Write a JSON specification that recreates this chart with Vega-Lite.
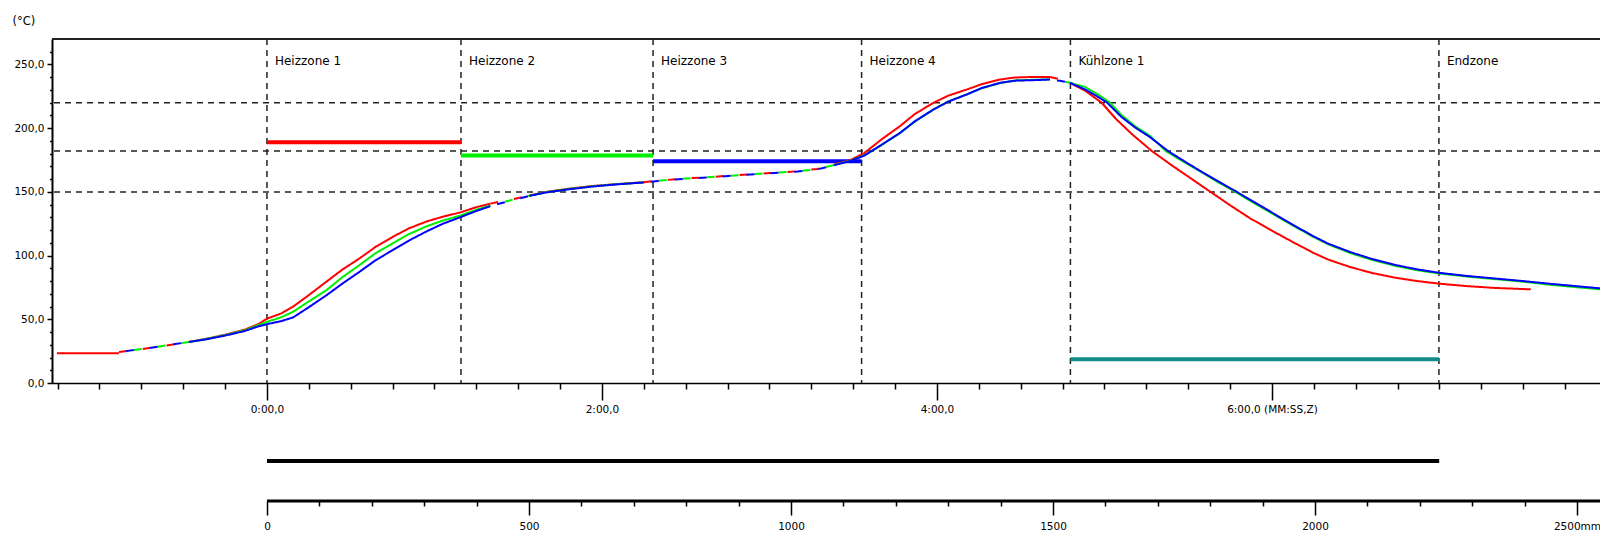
{
  "$schema": "https://vega.github.io/schema/vega-lite/v6.json",
  "width": 1548,
  "height": 344,
  "autosize": {"type": "none"},
  "padding": {"left": 52, "top": 39, "right": 0, "bottom": 151},
  "background": "#ffffff",
  "config": {
    "view": {"stroke": null},
    "font": "DejaVu Sans",
    "text": {"font": "DejaVu Sans"},
    "axis": {"labelOverlap": false, "labelFlush": false}
  },
  "datasets": {
    "zonen": [
      {"zone": "Heizzone 1", "t": 0},
      {"zone": "Heizzone 2", "t": 69.5},
      {"zone": "Heizzone 3", "t": 138.3},
      {"zone": "Heizzone 4", "t": 213},
      {"zone": "Kühlzone 1", "t": 287.8},
      {"zone": "Endzone", "t": 419.8}
    ],
    "grenzen": [{"T": 150}, {"T": 182}, {"T": 220}],
    "sollwerte": [
      {"zone": "Heizzone 1", "s": "rot", "t0": 0, "t1": 69.5, "T": 189},
      {"zone": "Heizzone 2", "s": "grün", "t0": 69.5, "t1": 138.3, "T": 178.5},
      {"zone": "Heizzone 3", "s": "blau", "t0": 138.3, "t1": 213, "T": 174},
      {"zone": "Kühlzone 1", "s": "türkis", "t0": 287.8, "t1": 419.8, "T": 18.7}
    ],
    "profile": [
      {"s": "rot", "g": "S", "t": -75.2, "T": 23.3},
      {"s": "rot", "g": "S", "t": -53, "T": 23.3},

      {"s": "rot", "g": "A", "t": -53, "T": 24.3},
      {"s": "rot", "g": "A", "t": -45, "T": 26.6},
      {"s": "rot", "g": "A", "t": -38, "T": 28.8},
      {"s": "rot", "g": "A", "t": -28, "T": 32.2},
      {"s": "rot", "g": "B", "t": -28, "T": 32.2},
      {"s": "rot", "g": "B", "t": -22, "T": 34.6},
      {"s": "rot", "g": "B", "t": -15, "T": 37.9},
      {"s": "rot", "g": "B", "t": -8, "T": 41.8},
      {"s": "rot", "g": "B", "t": -3, "T": 46.3},
      {"s": "rot", "g": "B", "t": 0, "T": 50.5},
      {"s": "rot", "g": "B", "t": 5, "T": 54.5},
      {"s": "rot", "g": "B", "t": 9.4, "T": 60},
      {"s": "rot", "g": "B", "t": 15, "T": 69},
      {"s": "rot", "g": "B", "t": 21.4, "T": 79.7},
      {"s": "rot", "g": "B", "t": 27, "T": 89},
      {"s": "rot", "g": "B", "t": 33.3, "T": 98},
      {"s": "rot", "g": "B", "t": 39, "T": 107},
      {"s": "rot", "g": "B", "t": 45.3, "T": 115},
      {"s": "rot", "g": "B", "t": 51, "T": 121.5},
      {"s": "rot", "g": "B", "t": 57.2, "T": 126.8},
      {"s": "rot", "g": "B", "t": 63, "T": 130.5},
      {"s": "rot", "g": "B", "t": 69.1, "T": 133.8},
      {"s": "rot", "g": "B", "t": 75, "T": 138},
      {"s": "rot", "g": "B", "t": 80, "T": 140.8},
      {"s": "rot", "g": "C", "t": 80, "T": 140.8},
      {"s": "rot", "g": "C", "t": 87, "T": 143.8},
      {"s": "rot", "g": "C", "t": 94, "T": 147.2},
      {"s": "rot", "g": "D", "t": 94, "T": 147.2},
      {"s": "rot", "g": "D", "t": 100, "T": 150},
      {"s": "rot", "g": "D", "t": 107.4, "T": 152.3},
      {"s": "rot", "g": "D", "t": 116, "T": 154.5},
      {"s": "rot", "g": "D", "t": 125.3, "T": 156.1},
      {"s": "rot", "g": "D", "t": 135, "T": 157.6},
      {"s": "rot", "g": "E", "t": 135, "T": 157.6},
      {"s": "rot", "g": "E", "t": 140, "T": 158.8},
      {"s": "rot", "g": "E", "t": 149, "T": 160.4},
      {"s": "rot", "g": "E", "t": 159, "T": 161.7},
      {"s": "rot", "g": "E", "t": 170.6, "T": 163.5},
      {"s": "rot", "g": "E", "t": 180, "T": 164.8},
      {"s": "rot", "g": "E", "t": 190, "T": 166.2},
      {"s": "rot", "g": "E", "t": 197, "T": 168},
      {"s": "rot", "g": "E", "t": 203, "T": 171.4},
      {"s": "rot", "g": "F", "t": 203, "T": 171.4},
      {"s": "rot", "g": "F", "t": 209, "T": 175},
      {"s": "rot", "g": "F", "t": 214, "T": 180.5},
      {"s": "rot", "g": "F", "t": 220, "T": 191},
      {"s": "rot", "g": "F", "t": 226.7, "T": 201.5},
      {"s": "rot", "g": "F", "t": 232, "T": 211},
      {"s": "rot", "g": "F", "t": 238.7, "T": 219.9},
      {"s": "rot", "g": "F", "t": 244, "T": 225.5},
      {"s": "rot", "g": "F", "t": 250.6, "T": 230.3},
      {"s": "rot", "g": "F", "t": 256, "T": 234.5},
      {"s": "rot", "g": "F", "t": 262.6, "T": 238.2},
      {"s": "rot", "g": "F", "t": 268, "T": 239.8},
      {"s": "rot", "g": "F", "t": 274.5, "T": 240.2},
      {"s": "rot", "g": "F", "t": 280.5, "T": 240.2},
      {"s": "rot", "g": "G", "t": 280.5, "T": 240.2},
      {"s": "rot", "g": "G", "t": 284, "T": 238.5},
      {"s": "rot", "g": "G", "t": 287.6, "T": 235.6},
      {"s": "rot", "g": "H", "t": 287.6, "T": 235.6},
      {"s": "rot", "g": "H", "t": 293, "T": 229.5},
      {"s": "rot", "g": "H", "t": 299, "T": 220},
      {"s": "rot", "g": "H", "t": 304, "T": 207.5},
      {"s": "rot", "g": "H", "t": 310, "T": 195},
      {"s": "rot", "g": "H", "t": 317, "T": 182},
      {"s": "rot", "g": "H", "t": 324, "T": 171},
      {"s": "rot", "g": "H", "t": 331, "T": 160.5},
      {"s": "rot", "g": "H", "t": 338, "T": 150},
      {"s": "rot", "g": "H", "t": 345, "T": 139.5},
      {"s": "rot", "g": "H", "t": 352, "T": 129.5},
      {"s": "rot", "g": "H", "t": 360, "T": 119.5},
      {"s": "rot", "g": "H", "t": 368, "T": 110},
      {"s": "rot", "g": "H", "t": 375, "T": 102},
      {"s": "rot", "g": "H", "t": 380, "T": 97},
      {"s": "rot", "g": "H", "t": 388, "T": 91},
      {"s": "rot", "g": "H", "t": 396, "T": 86.3},
      {"s": "rot", "g": "H", "t": 404, "T": 82.7},
      {"s": "rot", "g": "H", "t": 412, "T": 80},
      {"s": "rot", "g": "H", "t": 419.8, "T": 78},
      {"s": "rot", "g": "H", "t": 430, "T": 76},
      {"s": "rot", "g": "H", "t": 440, "T": 74.6},
      {"s": "rot", "g": "H", "t": 452.7, "T": 73.5},

      {"s": "grün", "g": "A", "t": -53, "T": 24.3},
      {"s": "grün", "g": "A", "t": -45, "T": 26.6},
      {"s": "grün", "g": "A", "t": -38, "T": 28.8},
      {"s": "grün", "g": "A", "t": -28, "T": 32.2},
      {"s": "grün", "g": "B", "t": -28, "T": 32.2},
      {"s": "grün", "g": "B", "t": -22, "T": 34.4},
      {"s": "grün", "g": "B", "t": -15, "T": 37.6},
      {"s": "grün", "g": "B", "t": -8, "T": 41.3},
      {"s": "grün", "g": "B", "t": -3, "T": 45.5},
      {"s": "grün", "g": "B", "t": 0, "T": 48},
      {"s": "grün", "g": "B", "t": 5, "T": 51.5},
      {"s": "grün", "g": "B", "t": 9.4, "T": 56},
      {"s": "grün", "g": "B", "t": 15, "T": 64},
      {"s": "grün", "g": "B", "t": 21.4, "T": 73},
      {"s": "grün", "g": "B", "t": 27, "T": 83},
      {"s": "grün", "g": "B", "t": 33.3, "T": 92.8},
      {"s": "grün", "g": "B", "t": 39, "T": 102},
      {"s": "grün", "g": "B", "t": 45.3, "T": 110},
      {"s": "grün", "g": "B", "t": 51, "T": 117},
      {"s": "grün", "g": "B", "t": 57.2, "T": 123},
      {"s": "grün", "g": "B", "t": 63, "T": 127.5},
      {"s": "grün", "g": "B", "t": 69.1, "T": 131.3},
      {"s": "grün", "g": "B", "t": 75, "T": 136},
      {"s": "grün", "g": "B", "t": 80, "T": 139.3},
      {"s": "grün", "g": "C", "t": 80, "T": 139.3},
      {"s": "grün", "g": "C", "t": 87, "T": 143.3},
      {"s": "grün", "g": "C", "t": 94, "T": 147},
      {"s": "grün", "g": "D", "t": 94, "T": 147},
      {"s": "grün", "g": "D", "t": 100, "T": 149.8},
      {"s": "grün", "g": "D", "t": 107.4, "T": 152},
      {"s": "grün", "g": "D", "t": 116, "T": 154.3},
      {"s": "grün", "g": "D", "t": 125.3, "T": 156},
      {"s": "grün", "g": "D", "t": 135, "T": 157.5},
      {"s": "grün", "g": "E", "t": 135, "T": 157.5},
      {"s": "grün", "g": "E", "t": 140, "T": 158.7},
      {"s": "grün", "g": "E", "t": 149, "T": 160.3},
      {"s": "grün", "g": "E", "t": 159, "T": 161.6},
      {"s": "grün", "g": "E", "t": 170.6, "T": 163.4},
      {"s": "grün", "g": "E", "t": 180, "T": 164.7},
      {"s": "grün", "g": "E", "t": 190, "T": 166.1},
      {"s": "grün", "g": "E", "t": 197, "T": 167.8},
      {"s": "grün", "g": "E", "t": 203, "T": 171},
      {"s": "grün", "g": "F", "t": 203, "T": 171},
      {"s": "grün", "g": "F", "t": 209, "T": 174.5},
      {"s": "grün", "g": "F", "t": 214, "T": 178.8},
      {"s": "grün", "g": "F", "t": 220, "T": 186.5},
      {"s": "grün", "g": "F", "t": 226.7, "T": 196},
      {"s": "grün", "g": "F", "t": 232, "T": 205},
      {"s": "grün", "g": "F", "t": 238.7, "T": 214.6},
      {"s": "grün", "g": "F", "t": 244, "T": 221},
      {"s": "grün", "g": "F", "t": 250.6, "T": 226.4},
      {"s": "grün", "g": "F", "t": 256, "T": 231.3},
      {"s": "grün", "g": "F", "t": 262.6, "T": 235.4},
      {"s": "grün", "g": "F", "t": 268, "T": 237.5},
      {"s": "grün", "g": "F", "t": 274.5, "T": 238},
      {"s": "grün", "g": "F", "t": 280.5, "T": 238.3},
      {"s": "grün", "g": "G", "t": 280.5, "T": 238.3},
      {"s": "grün", "g": "G", "t": 284, "T": 237.2},
      {"s": "grün", "g": "G", "t": 287.6, "T": 235.6},
      {"s": "grün", "g": "H", "t": 287.6, "T": 235.6},
      {"s": "grün", "g": "H", "t": 293, "T": 232.5},
      {"s": "grün", "g": "H", "t": 298, "T": 226},
      {"s": "grün", "g": "H", "t": 302, "T": 220},
      {"s": "grün", "g": "H", "t": 306, "T": 210.5},
      {"s": "grün", "g": "H", "t": 311, "T": 201.5},
      {"s": "grün", "g": "H", "t": 316.3, "T": 194},
      {"s": "grün", "g": "H", "t": 322, "T": 182},
      {"s": "grün", "g": "H", "t": 328, "T": 174},
      {"s": "grün", "g": "H", "t": 334, "T": 166.5},
      {"s": "grün", "g": "H", "t": 340, "T": 158.5},
      {"s": "grün", "g": "H", "t": 346.8, "T": 150},
      {"s": "grün", "g": "H", "t": 353, "T": 142},
      {"s": "grün", "g": "H", "t": 360, "T": 133},
      {"s": "grün", "g": "H", "t": 368, "T": 123},
      {"s": "grün", "g": "H", "t": 375, "T": 114.5},
      {"s": "grün", "g": "H", "t": 380, "T": 109},
      {"s": "grün", "g": "H", "t": 388, "T": 102},
      {"s": "grün", "g": "H", "t": 396, "T": 96.5},
      {"s": "grün", "g": "H", "t": 404, "T": 92},
      {"s": "grün", "g": "H", "t": 412, "T": 88.5},
      {"s": "grün", "g": "H", "t": 419.8, "T": 86},
      {"s": "grün", "g": "H", "t": 430, "T": 83.5},
      {"s": "grün", "g": "H", "t": 440, "T": 81.5},
      {"s": "grün", "g": "H", "t": 450, "T": 79.5},
      {"s": "grün", "g": "H", "t": 460, "T": 77},
      {"s": "grün", "g": "H", "t": 470, "T": 75},
      {"s": "grün", "g": "H", "t": 477.5, "T": 73.5},

      {"s": "blau", "g": "A", "t": -53, "T": 24.3},
      {"s": "blau", "g": "A", "t": -45, "T": 26.6},
      {"s": "blau", "g": "A", "t": -38, "T": 28.8},
      {"s": "blau", "g": "A", "t": -28, "T": 32.2},
      {"s": "blau", "g": "B", "t": -28, "T": 32.2},
      {"s": "blau", "g": "B", "t": -22, "T": 34.2},
      {"s": "blau", "g": "B", "t": -15, "T": 37.2},
      {"s": "blau", "g": "B", "t": -8, "T": 40.8},
      {"s": "blau", "g": "B", "t": -3, "T": 44.5},
      {"s": "blau", "g": "B", "t": 0, "T": 46.2},
      {"s": "blau", "g": "B", "t": 5, "T": 48.5},
      {"s": "blau", "g": "B", "t": 9.4, "T": 51.5},
      {"s": "blau", "g": "B", "t": 15, "T": 59.5},
      {"s": "blau", "g": "B", "t": 21.4, "T": 69},
      {"s": "blau", "g": "B", "t": 27, "T": 78},
      {"s": "blau", "g": "B", "t": 33.3, "T": 87.5},
      {"s": "blau", "g": "B", "t": 39, "T": 96.5},
      {"s": "blau", "g": "B", "t": 45.3, "T": 104.6},
      {"s": "blau", "g": "B", "t": 51, "T": 112},
      {"s": "blau", "g": "B", "t": 57.2, "T": 119},
      {"s": "blau", "g": "B", "t": 63, "T": 125},
      {"s": "blau", "g": "B", "t": 69.1, "T": 130},
      {"s": "blau", "g": "B", "t": 75, "T": 135},
      {"s": "blau", "g": "B", "t": 80, "T": 138.8},
      {"s": "blau", "g": "C", "t": 80, "T": 138.8},
      {"s": "blau", "g": "C", "t": 87, "T": 143},
      {"s": "blau", "g": "C", "t": 94, "T": 146.8},
      {"s": "blau", "g": "D", "t": 94, "T": 146.8},
      {"s": "blau", "g": "D", "t": 100, "T": 149.6},
      {"s": "blau", "g": "D", "t": 107.4, "T": 151.8},
      {"s": "blau", "g": "D", "t": 116, "T": 154.1},
      {"s": "blau", "g": "D", "t": 125.3, "T": 155.9},
      {"s": "blau", "g": "D", "t": 135, "T": 157.4},
      {"s": "blau", "g": "E", "t": 135, "T": 157.4},
      {"s": "blau", "g": "E", "t": 140, "T": 158.6},
      {"s": "blau", "g": "E", "t": 149, "T": 160.2},
      {"s": "blau", "g": "E", "t": 159, "T": 161.5},
      {"s": "blau", "g": "E", "t": 170.6, "T": 163.3},
      {"s": "blau", "g": "E", "t": 180, "T": 164.6},
      {"s": "blau", "g": "E", "t": 190, "T": 166},
      {"s": "blau", "g": "E", "t": 197, "T": 167.6},
      {"s": "blau", "g": "E", "t": 203, "T": 170.8},
      {"s": "blau", "g": "F", "t": 203, "T": 170.8},
      {"s": "blau", "g": "F", "t": 209, "T": 174.3},
      {"s": "blau", "g": "F", "t": 214, "T": 178.5},
      {"s": "blau", "g": "F", "t": 220, "T": 186.8},
      {"s": "blau", "g": "F", "t": 226.7, "T": 196.2},
      {"s": "blau", "g": "F", "t": 232, "T": 205.3},
      {"s": "blau", "g": "F", "t": 238.7, "T": 214.6},
      {"s": "blau", "g": "F", "t": 244, "T": 220.8},
      {"s": "blau", "g": "F", "t": 250.6, "T": 226.4},
      {"s": "blau", "g": "F", "t": 256, "T": 231.5},
      {"s": "blau", "g": "F", "t": 262.6, "T": 235.6},
      {"s": "blau", "g": "F", "t": 268, "T": 237.3},
      {"s": "blau", "g": "F", "t": 274.5, "T": 237.7},
      {"s": "blau", "g": "F", "t": 280.5, "T": 238.2},
      {"s": "blau", "g": "G", "t": 280.5, "T": 238.2},
      {"s": "blau", "g": "G", "t": 284, "T": 237.2},
      {"s": "blau", "g": "G", "t": 287.6, "T": 235.6},
      {"s": "blau", "g": "H", "t": 287.6, "T": 235.6},
      {"s": "blau", "g": "H", "t": 293, "T": 230.5},
      {"s": "blau", "g": "H", "t": 297, "T": 225.5},
      {"s": "blau", "g": "H", "t": 301, "T": 220},
      {"s": "blau", "g": "H", "t": 306, "T": 209},
      {"s": "blau", "g": "H", "t": 311, "T": 200.5},
      {"s": "blau", "g": "H", "t": 316.3, "T": 193},
      {"s": "blau", "g": "H", "t": 322.8, "T": 182},
      {"s": "blau", "g": "H", "t": 329, "T": 173.5},
      {"s": "blau", "g": "H", "t": 335, "T": 165.5},
      {"s": "blau", "g": "H", "t": 341, "T": 158},
      {"s": "blau", "g": "H", "t": 347.4, "T": 150},
      {"s": "blau", "g": "H", "t": 354, "T": 141.5},
      {"s": "blau", "g": "H", "t": 361, "T": 132.5},
      {"s": "blau", "g": "H", "t": 368, "T": 123.5},
      {"s": "blau", "g": "H", "t": 375, "T": 115},
      {"s": "blau", "g": "H", "t": 380, "T": 109.5},
      {"s": "blau", "g": "H", "t": 388, "T": 102.8},
      {"s": "blau", "g": "H", "t": 396, "T": 97.2},
      {"s": "blau", "g": "H", "t": 404, "T": 92.7},
      {"s": "blau", "g": "H", "t": 412, "T": 89.2},
      {"s": "blau", "g": "H", "t": 419.8, "T": 86.5},
      {"s": "blau", "g": "H", "t": 430, "T": 84},
      {"s": "blau", "g": "H", "t": 440, "T": 82},
      {"s": "blau", "g": "H", "t": 450, "T": 80},
      {"s": "blau", "g": "H", "t": 460, "T": 77.8},
      {"s": "blau", "g": "H", "t": 470, "T": 75.8},
      {"s": "blau", "g": "H", "t": 477.5, "T": 74.3}
    ],
    "band": [{"von": 0, "bis": 2237}]
  },
  "layer": [
    {
      "layer": [
        {
          "data": {"name": "zonen"},
          "mark": {"type": "rule", "color": "#222222", "strokeWidth": 1.5, "strokeDash": [6, 5]},
          "encoding": {
            "x": {
              "field": "t", "type": "quantitative", "title": null,
              "scale": {"domain": [-77, 477.5], "nice": false, "zero": false},
              "axis": {
                "orient": "bottom",
                "values": [-75, -60, -45, -30, -15, 0, 15, 30, 45, 60, 75, 90, 105, 120, 135, 150, 165, 180, 195, 210, 225, 240, 255, 270, 285, 300, 315, 330, 345, 360, 375, 390, 405, 420, 435, 450, 465],
                "grid": false,
                "domain": true, "domainColor": "#000000", "domainWidth": 1.5,
                "tickColor": "#000000", "tickWidth": 1.5,
                "tickSize": {"condition": {"test": "datum.value % 120 === 0", "value": 17}, "value": 6},
                "labelExpr": "datum.value % 120 === 0 ? (floor(datum.value / 60) + ':00,0' + (datum.value === 360 ? ' (MM:SS,Z)' : '')) : ''",
                "labelFont": "DejaVu Sans", "labelColor": "#000000",
                "labelFontSize": {"condition": {"test": "datum.value % 120 === 0", "value": 10.5}, "value": 0.1},
                "labelPadding": 4, "labelOverlap": false, "labelFlush": false
              }
            }
          }
        },
        {
          "data": {"name": "grenzen"},
          "mark": {"type": "rule", "color": "#222222", "strokeWidth": 1.5, "strokeDash": [6, 5]},
          "encoding": {
            "y": {
              "field": "T", "type": "quantitative", "title": "(°C)",
              "scale": {"domain": [0, 270], "nice": false, "zero": false},
              "axis": {
                "values": [0, 10, 20, 30, 40, 50, 60, 70, 80, 90, 100, 110, 120, 130, 140, 150, 160, 170, 180, 190, 200, 210, 220, 230, 240, 250, 260],
                "tickCount": 27,
                "grid": false,
                "domain": true, "domainColor": "#000000", "domainWidth": 2,
                "tickColor": "#000000", "tickWidth": 1.5,
                "tickSize": {"condition": {"test": "datum.value % 50 === 0", "value": 5}, "value": 2.5},
                "labelExpr": "datum.value % 50 === 0 ? replace(format(datum.value, '.1f'), '.', ',') : ''",
                "labelFont": "DejaVu Sans", "labelColor": "#000000",
                "labelFontSize": {"condition": {"test": "datum.value % 50 === 0", "value": 10.5}, "value": 0.1},
                "labelPadding": 3, "labelOverlap": false, "labelFlush": false,
                "title": "(°C)", "titleAngle": 0, "titleX": -40, "titleY": -18,
                "titleAlign": "left", "titleBaseline": "middle",
                "titleFont": "DejaVu Sans", "titleFontSize": 11.5, "titleFontWeight": "normal", "titleColor": "#000000"
              }
            }
          }
        },
        {
          "data": {"values": [{}]},
          "mark": {"type": "rule", "color": "#222222", "strokeWidth": 2},
          "encoding": {"y": {"datum": 270, "type": "quantitative"}}
        },
        {
          "data": {"name": "zonen"},
          "mark": {"type": "text", "align": "left", "baseline": "middle", "dx": 8, "font": "DejaVu Sans", "fontSize": 12, "color": "#000000"},
          "encoding": {
            "x": {"field": "t", "type": "quantitative", "title": null},
            "y": {"datum": 253, "type": "quantitative"},
            "text": {"field": "zone"}
          }
        },
        {
          "data": {"name": "sollwerte"},
          "mark": {"type": "rule", "strokeWidth": 4},
          "encoding": {
            "x": {"field": "t0", "type": "quantitative", "title": null},
            "x2": {"field": "t1"},
            "y": {"field": "T", "type": "quantitative", "title": "(°C)"},
            "color": {"field": "s", "type": "nominal", "legend": null,
              "scale": {"domain": ["rot", "grün", "blau", "türkis"], "range": ["#ff0000", "#00ee00", "#0000ff", "#148c8c"]}}
          }
        },
        {
          "data": {"name": "profile"},
          "transform": [{"filter": "datum.s === 'rot'"}],
          "mark": {"type": "line", "strokeWidth": 2, "strokeDashOffset": 0},
          "encoding": {
            "x": {"field": "t", "type": "quantitative", "title": null},
            "y": {"field": "T", "type": "quantitative", "title": "(°C)"},
            "color": {"field": "s", "type": "nominal", "legend": null},
            "detail": {"field": "g"},
            "strokeDash": {"field": "g", "type": "nominal", "legend": null,
              "scale": {"domain": ["S", "A", "B", "C", "D", "E", "F", "G", "H"],
                "range": [[1, 0], [8, 16], [1, 0], [8, 16], [1, 0], [8, 16], [1, 0], [8, 16], [1, 0]]}},
            "order": {"field": "t", "type": "quantitative"}
          }
        },
        {
          "data": {"name": "profile"},
          "transform": [{"filter": "datum.s === 'grün'"}],
          "mark": {"type": "line", "strokeWidth": 2, "strokeDashOffset": 9},
          "encoding": {
            "x": {"field": "t", "type": "quantitative", "title": null},
            "y": {"field": "T", "type": "quantitative", "title": "(°C)"},
            "color": {"field": "s", "type": "nominal", "legend": null},
            "detail": {"field": "g"},
            "strokeDash": {"field": "g", "type": "nominal", "legend": null},
            "order": {"field": "t", "type": "quantitative"}
          }
        },
        {
          "data": {"name": "profile"},
          "transform": [{"filter": "datum.s === 'blau'"}],
          "mark": {"type": "line", "strokeWidth": 2, "strokeDashOffset": 17},
          "encoding": {
            "x": {"field": "t", "type": "quantitative", "title": null},
            "y": {"field": "T", "type": "quantitative", "title": "(°C)"},
            "color": {"field": "s", "type": "nominal", "legend": null},
            "detail": {"field": "g"},
            "strokeDash": {"field": "g", "type": "nominal", "legend": null},
            "order": {"field": "t", "type": "quantitative"}
          }
        }
      ]
    },
    {
      "layer": [
        {
          "data": {"name": "band"},
          "mark": {"type": "rule", "color": "#000000", "strokeWidth": 4},
          "encoding": {
            "x": {
              "field": "von", "type": "quantitative", "title": null,
              "scale": {"domain": [-410.3, 2543.9], "nice": false, "zero": false},
              "axis": {
                "orient": "bottom", "offset": 118,
                "values": [0, 100, 200, 300, 400, 500, 600, 700, 800, 900, 1000, 1100, 1200, 1300, 1400, 1500, 1600, 1700, 1800, 1900, 2000, 2100, 2200, 2300, 2400, 2500],
                "grid": false, "domain": false,
                "tickColor": "#000000", "tickWidth": 1.5,
                "tickSize": {"condition": {"test": "datum.value % 500 === 0", "value": 14}, "value": 5},
                "labelExpr": "datum.value % 500 === 0 ? (datum.value === 2500 ? '2500mm' : '' + datum.value) : ''",
                "labelFont": "DejaVu Sans", "labelColor": "#000000",
                "labelFontSize": {"condition": {"test": "datum.value % 500 === 0", "value": 10.5}, "value": 0.1},
                "labelPadding": 6, "labelOverlap": false, "labelFlush": false
              }
            },
            "x2": {"field": "bis"},
            "y": {"datum": -61.2, "type": "quantitative"}
          }
        },
        {
          "data": {"values": [{}]},
          "mark": {"type": "rule", "color": "#000000", "strokeWidth": 3},
          "encoding": {
            "x": {"datum": 0, "type": "quantitative"},
            "x2": {"datum": 2600},
            "y": {"datum": -92.6, "type": "quantitative"}
          }
        }
      ]
    }
  ],
  "resolve": {"scale": {"x": "independent"}, "axis": {"x": "independent"}}
}
